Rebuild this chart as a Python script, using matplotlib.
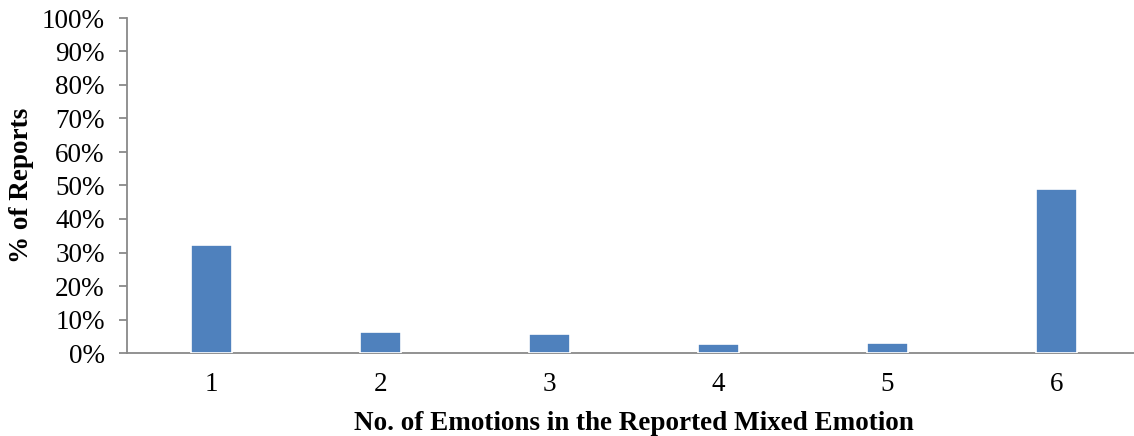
import matplotlib
matplotlib.use("Agg")
import matplotlib.pyplot as plt
from matplotlib.ticker import PercentFormatter

# Datos
categories = ["1", "2", "3", "4", "5", "6"]
values = [32.2, 6.2, 5.6, 2.7, 3.1, 49.0]
yticks = list(range(0, 101, 10))

plt.rcParams["font.family"] = ["Liberation Serif", "DejaVu Serif"]

fig = plt.figure(figsize=(11.34, 4.36), dpi=100)
ax = fig.add_axes([127 / 1134, 83 / 436, 1014 / 1134, 335 / 436])

x = list(range(1, len(categories) + 1))
ax.bar(x, values, width=0.245, color="#4F81BD", edgecolor="white", linewidth=1.2, zorder=3)

ax.set_xlim(0.5, 6.5)
ax.set_ylim(0, 100)
ax.set_yticks(yticks)
ax.yaxis.set_major_formatter(PercentFormatter(decimals=0))
ax.set_xticks(x)
ax.set_xticklabels(categories)

for s in ["top", "right"]:
    ax.spines[s].set_visible(False)
for s in ["left", "bottom"]:
    ax.spines[s].set_color("#898989")
    ax.spines[s].set_linewidth(1.3)

fs = 19.5
ax.tick_params(axis="y", length=6, width=1.3, color="#898989", labelsize=fs, pad=10)
ax.tick_params(axis="x", length=0, labelsize=fs, pad=14)

ax.set_ylabel("% of Reports", fontsize=fs, fontweight="bold")
ax.yaxis.set_label_coords(-93 / 1014, 0.5)
ax.set_xlabel("No. of Emotions in the Reported Mixed Emotion", fontsize=fs,
              fontweight="bold")
ax.xaxis.set_label_coords(0.5, -0.172)

fig.savefig("out.png", dpi=100)
